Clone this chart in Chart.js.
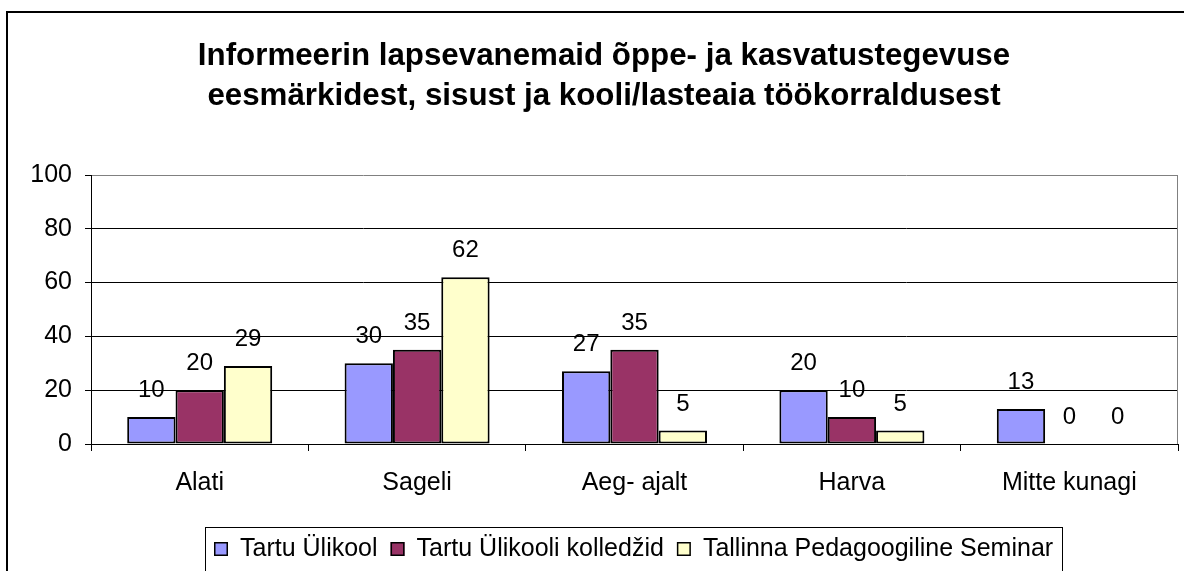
<!DOCTYPE html>
<html>
<head>
<meta charset="utf-8">
<title>Informeerin lapsevanemaid</title>
<script src="https://cdn.jsdelivr.net/npm/chart.js@4/dist/chart.umd.min.js"></script>
<style>
  html, body { margin: 0; padding: 0; background: #fff; }
  canvas { display: block; }
</style>
</head>
<body>
<canvas id="chart" width="1184" height="571"></canvas>
<script>
const categories = ['Alati', 'Sageli', 'Aeg- ajalt', 'Harva', 'Mitte kunagi'];
const tartuUlikool = [10, 30, 27, 20, 13];
const kolledzid = [20, 35, 35, 10, 0];
const tallinnSeminar = [29, 62, 5, 5, 0];
const seriesNames = ['Tartu Ülikool', 'Tartu Ülikooli kolledžid', 'Tallinna Pedagoogiline Seminar'];
const titleLines = [
  'Informeerin lapsevanemaid õppe- ja kasvatustegevuse',
  'eesmärkidest, sisust ja kooli/lasteaia töökorraldusest'
];
const yMax = 100;
const yStep = 20;

const FONT = "'Liberation Sans', Arial, sans-serif";
const colors = ['#9999FF', '#993366', '#FFFFCC'];

// frame, title, plot border, value labels and the boxed legend
const decorations = {
  id: 'decorations',
  beforeDraw(chart) {
    const ctx = chart.ctx;
    ctx.save();
    ctx.fillStyle = '#fff';
    ctx.fillRect(0, 0, chart.width, chart.height);
    ctx.strokeStyle = '#000';
    ctx.lineWidth = 2;
    ctx.strokeRect(7, 12, 1400, 800);
    ctx.fillStyle = '#000';
    ctx.font = 'bold 31.3px ' + FONT;
    ctx.textAlign = 'center';
    ctx.textBaseline = 'alphabetic';
    titleLines.forEach((line, i) => ctx.fillText(line, 604, 65 + i * 40));
    ctx.restore();
  },
  afterDatasetsDraw(chart) {
    const ctx = chart.ctx;
    const area = chart.chartArea;
    ctx.save();
    ctx.strokeStyle = '#808080';
    ctx.lineWidth = 1;
    ctx.beginPath();
    ctx.moveTo(Math.round(area.right) - 0.5, area.top);
    ctx.lineTo(Math.round(area.right) - 0.5, area.bottom);
    ctx.stroke();

    ctx.fillStyle = '#000';
    ctx.font = '24px ' + FONT;
    ctx.textAlign = 'center';
    ctx.textBaseline = 'alphabetic';
    chart.data.datasets.forEach((ds, i) => {
      chart.getDatasetMeta(i).data.forEach((bar, j) => {
        ctx.fillText(String(ds.data[j]), bar.x, bar.y - 20);
      });
    });

    // legend
    ctx.font = '25px ' + FONT;
    ctx.lineWidth = 1;
    ctx.strokeStyle = '#000';
    ctx.strokeRect(205.5, 527.5, 857, 100);
    ctx.textAlign = 'left';
    let x = 214;
    chart.data.datasets.forEach(ds => {
      ctx.fillStyle = ds.backgroundColor;
      ctx.fillRect(x, 542, 14, 14);
      ctx.lineWidth = 1.5;
      ctx.strokeRect(x + 0.75, 542.75, 12.5, 12.5);
      ctx.fillStyle = '#000';
      ctx.fillText(ds.label, x + 26, 556);
      x += 26 + ctx.measureText(ds.label).width + 13;
    });
    ctx.restore();
  }
};

const makeSet = (label, data, color) => ({
  label,
  data,
  backgroundColor: color,
  borderColor: '#000',
  borderWidth: 2,
  borderSkipped: false,
  categoryPercentage: 0.667,
  barPercentage: 1
});

new Chart(document.getElementById('chart'), {
  type: 'bar',
  data: {
    labels: categories,
    datasets: [
      makeSet(seriesNames[0], tartuUlikool, colors[0]),
      makeSet(seriesNames[1], kolledzid, colors[1]),
      makeSet(seriesNames[2], tallinnSeminar, colors[2])
    ]
  },
  options: {
    responsive: false,
    animation: false,
    devicePixelRatio: 1,
    layout: { padding: { top: 175, right: 6, bottom: 67, left: 0 } },
    plugins: {
      legend: { display: false },
      title: { display: false },
      tooltip: { enabled: false }
    },
    scales: {
      x: {
        afterFit: s => { s.height = 60; },
        offset: true,
        grid: {
          offset: true,
          drawOnChartArea: false,
          tickLength: 7,
          color: '#000'
        },
        border: { color: '#000', width: 1 },
        ticks: { color: '#000', font: { family: FONT, size: 25 }, padding: 17 }
      },
      y: {
        min: 0,
        max: yMax,
        afterFit: s => { s.width = 91; },
        grid: {
          color: c => (c.tick && c.tick.value === yMax ? '#808080' : '#000'),
          tickColor: '#000',
          tickLength: 6
        },
        border: { color: '#000', width: 1 },
        ticks: {
          stepSize: yStep,
          color: '#000',
          font: { family: FONT, size: 25 },
          padding: 13
        }
      }
    }
  },
  plugins: [decorations]
});
</script>
</body>
</html>
